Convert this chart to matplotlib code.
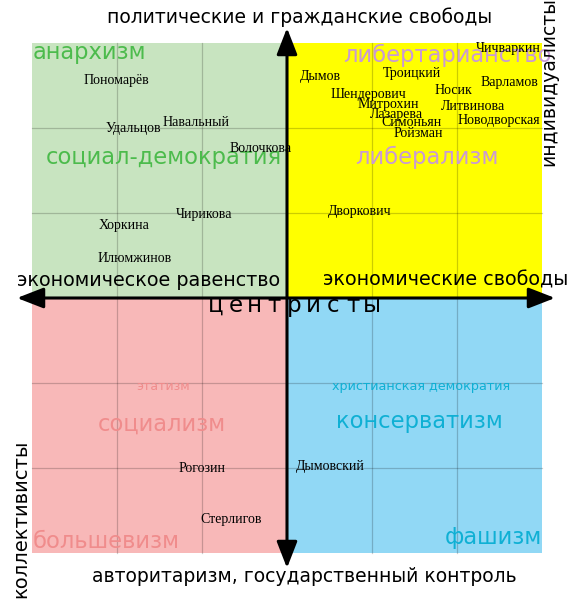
import matplotlib.pyplot as plt
from matplotlib.patches import Rectangle

# quadrants: lower-left corner and colour
quad_x = [-3, 0, -3, 0]
quad_y = [0, 0, -3, -3]
quad_colors = ['#c8e4c0', '#ffff00', '#f8b8b8', '#91d8f5']

# politicians and their positions (economic, civil)
names = ['Пономарёв', 'Удальцов', 'Навальный', 'Волочкова', 'Чирикова', 'Хоркина',
         'Илюмжинов', 'Чичваркин', 'Дымов', 'Троицкий', 'Варламов', 'Носик',
         'Шендерович', 'Митрохин', 'Литвинова', 'Лазарева', 'Новодворская',
         'Симоньян', 'Ройзман', 'Дворкович', 'Рогозин', 'Стерлигов', 'Дымовский']
name_x = [-2.01, -1.81, -1.07, -0.31, -0.98, -1.92, -1.79, 2.60, 0.39, 1.47, 2.62, 1.96,
          0.96, 1.19, 2.19, 1.29, 2.49, 1.47, 1.55, 0.86, -1.00, -0.66, 0.51]
name_y = [2.56, 1.99, 2.06, 1.76, 0.98, 0.85, 0.46, 2.94, 2.61, 2.64, 2.54, 2.44,
          2.39, 2.28, 2.25, 2.16, 2.09, 2.06, 1.94, 1.02, -2.00, -2.60, -1.98]

# ideology labels
ideologies = ['анархизм', 'социал-демократия', 'либертарианство', 'либерализм',
              'этатизм', 'социализм', 'большевизм', 'христианская демократия',
              'консерватизм', 'фашизм']
ideo_x = [-2.99, -1.45, 1.89, 1.64, -1.46, -1.47, -2.99, 1.58, 1.56, 3.0]
ideo_y = [2.89, 1.65, 2.86, 1.66, -1.04, -1.49, -2.87, -1.04, -1.45, -2.82]
ideo_size = [16.3, 16.3, 16.3, 16.3, 9, 16.3, 16.3, 9.2, 16.3, 16.3]
ideo_ha = ['left', 'center', 'center', 'center', 'center', 'center', 'left',
           'center', 'center', 'right']
ideo_color = ['#4cbb4c', '#4cbb4c', '#c99ad4', '#c99ad4', '#f08c8c', '#f08c8c',
              '#f08c8c', '#0fb0d4', '#0fb0d4', '#0fb0d4']

s = 85.0
fig = plt.figure(figsize=(5.75, 6.04), dpi=100)
ax = fig.add_axes([0, 0, 1, 1])
ax.set_xlim(-287 / s, 288 / s)
ax.set_ylim(-306 / s, 298 / s)
ax.axis('off')

for x0, y0, c in zip(quad_x, quad_y, quad_colors):
    ax.add_patch(Rectangle((x0, y0), 3, 3, facecolor=c, edgecolor='none', zorder=0))

for g in [-2, -1, 1, 2]:
    ax.plot([g, g], [-3, 3], color='black', alpha=0.2, lw=0.9, zorder=1)
    ax.plot([-3, 3], [g, g], color='black', alpha=0.2, lw=0.9, zorder=1)

for t, x, y, fs, ha, c in zip(ideologies, ideo_x, ideo_y, ideo_size, ideo_ha, ideo_color):
    ax.text(x, y, t, fontsize=fs, ha=ha, va='center', color=c,
            family='DejaVu Sans', zorder=2)

for t, x, y in zip(names, name_x, name_y):
    ax.text(x, y, t, fontsize=10, ha='center', va='center',
            family='Liberation Serif', zorder=3)

# axes arrows
arrow = dict(arrowstyle='<|-|>,head_length=0.9,head_width=0.35', lw=2.2,
             color='black', mutation_scale=18, shrinkA=0, shrinkB=0)
ax.annotate('', xy=(-270 / s, 0), xytext=(268 / s, 0), arrowprops=arrow, zorder=4)
ax.annotate('', xy=(0, 270 / s), xytext=(0, -270 / s), arrowprops=arrow, zorder=4)

ax.text(13 / s, 281 / s, 'политические и гражданские свободы', fontsize=13.5,
        ha='center', va='center', zorder=5)
ax.text(17 / s, -279 / s, 'авторитаризм, государственный контроль', fontsize=13.5,
        ha='center', va='center', zorder=5)
ax.text(-138 / s, 17 / s, 'экономическое равенство', fontsize=13.8,
        ha='center', va='center', zorder=5)
ax.text(36 / s, 18 / s, 'экономические свободы', fontsize=13.8,
        ha='left', va='center', zorder=5)
ax.text(262 / s, 216 / s, 'индивидуалисты', fontsize=13.5, rotation=90,
        ha='center', va='center', zorder=6)
ax.text(-266 / s, -221 / s, 'коллективисты', fontsize=14, rotation=90,
        ha='center', va='center', zorder=5)

word = 'центристы'
for i, ch in enumerate(word):
    ax.text((206 - 287 + (i + 0.5) * 176 / len(word)) / s, -14 / s, ch,
            fontsize=16.5, ha='center', va='baseline', zorder=5)

fig.savefig('out.png', dpi=100)
